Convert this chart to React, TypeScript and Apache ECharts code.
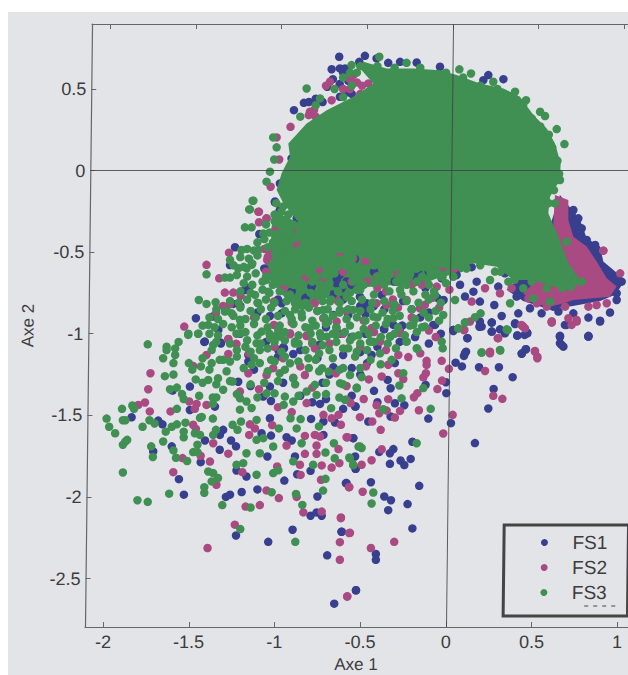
import React, { useEffect, useRef } from "react";
import * as echarts from "echarts";

type P = [number, number];

const xTicks = [-2, -1.5, -1, -0.5, 0, 0.5, 1];
const yTicks = [0.5, 0, -0.5, -1, -1.5, -2, -2.5];
const seriesNames = ["FS1", "FS2", "FS3"];

// Points (the scan is slightly sheared, see deskew)
const fs1Raw: P[] = [
[-1.41,-1.05],[-1.313,-1.06],[-1.153,-1.13],[-.978,-1.10],[-.945,-1.09],[-.891,-1.124],[-1.153,-1.17],[-.745,-1.07],[-.657,-1.205],[-.55,-1.21],[-1.494,-1.324],[-1.595,-1.348],[-1.14,-1.32],[-1.212,-1.294],[-1.027,-1.324],[-1.066,-1.385],[-1.021,-1.412],[-1.348,-1.447],[-1.494,-1.467],[-1.834,-1.512],[-1.679,-1.532],[-1.654,-1.555],[-1.027,-1.518],[-.70,-1.40],[-.735,-1.43],[-.53,-1.446],[-.787,-1.522],[-.715,-1.538],[-.647,-1.544],[-1.30,-1.589],[-1.319,-1.62],[-1.076,-1.61],[-1.021,-1.624],[-.93,-1.634],[-.90,-1.654],[-.715,-1.62],[-.541,-1.64],[-1.406,-1.654],[-1.254,-1.654],[-1.225,-1.69],[-1.60,-1.69],[-1.32,-1.711],[-1.708,-1.721],[-1.431,-1.787],[-1.042,-1.752],[-.881,-1.752],[-.53,-1.752],[-.527,-1.828],[-1.222,-1.838],[-1.164,-1.875],[-.868,-1.861],[-.79,-1.84],[-1.558,-1.891],[-.943,-1.90],[-.58,-1.915],[-1.529,-1.986],[-1.26,-1.986],[-1.284,-2.0],[-1.192,-1.97],[-1.10,-1.954],[-.75,-1.997],[-.79,-2.115],[-.755,-2.095],[-.725,-2.115],[-.895,-2.201],[-1.225,-2.236],[-1.037,-2.275],[-.609,-2.213],[-.693,-2.358],[-.525,-2.572],[-.652,-2.654],
[-1.231,-.47],[-1.26,-.579],[-.998,-.19],[-.969,-.242],[-1.089,-.389],[-1.173,-.732],[-1.459,-.905],[-1.362,-.895],[-1.328,-.977],[-1.407,-1.048],[-1.315,-1.054],[-1.241,-.817],[-1.027,-.891],[-.959,-.875],[-.959,-.813],[-.784,-.711],[-.638,-.671],[-.609,-.721],[-.657,-.885],[-.57,-.885],[-.502,-.773],[-.463,-.813],[-.375,-.762],[-.473,-.854],[-.362,-.97],[-.307,-.946],[-.255,-.95],[-.074,-.946],[-.025,-.66],[-.161,-.63],[-.014,-.793],[.043,-.977],[-.949,-1.082],[-.735,-1.068],[-.531,-.542],[-.765,-.323],[-.871,-.292],
[-.36,-.973],[-.26,-.953],[-.064,-.946],[.043,-.983],[.125,-1.027],[.195,-.957],[.267,-.987],[.267,-.932],[.344,-.997],[.403,-.94],[.416,-1.011],[.459,-1.007],[.473,-.993],[.704,-.946],[.665,-1.017],[.665,-1.058],[.685,-1.079],[.831,-1.017],[.899,-.925],[.117,-1.11],[.105,-1.136],[.056,-1.177],[.093,-1.2],[.193,-1.205],[.309,-1.205],[.442,-1.12],[.465,-1.095],[.389,-1.266],[.278,-1.338],[.247,-1.458],[.002,-1.364],[0,-1.297],[.029,-1.548],[.169,-1.67],[-.103,-1.52],[-.119,-1.313],[-.243,-1.438],[-.298,-1.426],[-.323,-1.334],[-.34,-1.283],[-.323,-1.507],[-.453,-1.538],[-.527,-1.446],[-.5,-1.113],[-.434,-1.13],[-.298,-1.18],[-.541,-1.64],[-.196,-1.662],[-.307,-1.707],[-.327,-1.732],[-.389,-1.724],[-.527,-1.828],[-.327,-1.797],[-.265,-1.777],[-.243,-1.805],[-.206,-1.767],[-.584,-1.915],[-.438,-1.91],[-.156,-1.932],[-.36,-1.997],[-.321,-2.02],[-.337,-2.081],[-.224,-2.044],[-.196,-2.193],[-.609,-2.213],[-.409,-2.35],[-.409,-2.385],[-.525,-2.572],
[.733,-.262],[.772,-.293],[.792,-.354],[.763,-.395],[.821,-.425],[.87,-.456],[.86,-.558],[.889,-.63],[.957,-.63],[1.025,-.681],[.996,-.752],[.996,-.793],[.957,-.87],[.899,-.92],[.831,-.901],[.831,-1.017],[.665,-1.017],[.675,-1.068],[.694,-.946],[.743,-.875],[.656,-.864],[.626,-.834],[.558,-.875],[.49,-.844],[.422,-.875],[.403,-.936],[.325,-.891],[.267,-.93],[.267,-.987],[.315,-.973],[.416,-1.011],[.475,-.997],[.467,-1.095],[.442,-1.123],[.282,-.824],[.198,-.803],[.16,-.742],[.111,-.772],[.208,-.956],[.198,-.925],[.125,-1.027],[.043,-.977],[.344,-.63],[.305,-.711],[.179,-.681],[.082,-.7],[.062,-.64],[.15,-.592],[.412,-.772],[.111,-1.119],
[-.623,.697],[-.473,.703],[-.506,.666],[-.667,.621],[-.619,.626],[-.589,.626],[-.693,.513],[-.619,.452],[-.829,.415],[-.887,.37],[-.405,.687],[-.337,.66],[-.268,.666],[-.171,.662],[-.035,.636],[.218,.554],[.247,.585],[.335,.56],[-.901,.074],[-.969,-.079],[-.998,-.195],[-.969,-.242],[-.784,-.711],[-.638,-.691],[-.482,-.834],[.043,-.977],[.665,-1.013],[.831,-1.013],[.743,-.242],[.782,-.385],
[-.62,-.64],[-.58,-.68],[-.55,-.7],[-.66,-.76],[-.6,-.79],[-.5,-.83],[-.47,-.88],[-.42,-.83],[-.36,-.85],[-.25,-.8],[-.2,-.85],[-.15,-.9],[-.1,-.87],[-.05,-.78],[-.12,-.72],[-.1,-.62],[-.17,-.66],[-.3,-.68],[-.42,-.62],[-1.06,-.6],[-1.15,-.72],[-1.2,-.83],[-1.1,-.87],[-.98,-.79],[-.9,-.74],[-.82,-.78],[-.75,-.86],[-.7,-.96],[-.62,-1.0],[-.55,-1.02],[-.47,-1.0],[-.4,-1.08],[-.27,-1.05],[-.18,-1.02],[-.1,-1.06],[-.03,-1.0],[-1.2,-1.0],[-1.05,-1.05],[-.98,-1.14],[-.85,-1.1],[-.75,-1.15],[-.68,-1.25],[-.6,-1.13],[-.46,-1.18],[-.5,-1.25],[-1.12,-1.22],[-.95,-1.3],[-.85,-1.38],[-.78,-1.42],[-.72,-1.3],[-.42,-1.35],[-.4,-1.42],[-.55,-1.38],[-.6,-1.46],
[-.6,.6],[-.57,.55],[-.62,.53],[-.58,.48],[-.55,.47],[-.66,.56],[-.8,.42],[-.76,.44],[-.72,.42],
];

const fs2Raw: P[] = [
[-1.724,-1.242],[-1.737,-1.34],[-1.756,-1.421],[-1.795,-1.436],[-1.728,-1.476],[-1.607,-1.476],[-1.498,-1.415],[-1.455,-1.43],[-1.465,-1.46],[-1.397,-1.436],[-1.475,-1.558],[-1.459,-1.583],[-1.358,-1.671],[-1.537,-1.762],[-1.431,-1.748],[-1.377,-1.783],[-1.27,-1.735],[-1.591,-1.848],[-1.339,-1.926],[-1.188,-1.848],[-1.169,-2.059],[-1.086,-2.05],[-1.047,-1.96],[-.975,-2.007],[-.985,-1.813],[-1.475,-1.197],[-1.397,-1.13],[-1.27,-1.034],[-1.27,-1.124],[-1.222,-1.063],[-1.153,-1.242],[-1.202,-1.354],[-1.091,-1.34],[-1.047,-1.253],[-1.144,-1.555],[-1.115,-1.58],[-1.148,-1.62],[-1.014,-1.56],[-.93,-1.685],[-.823,-1.626],[-.765,-1.62],[-.735,-1.63],[-.575,-1.634],[-.823,-1.736],[-.755,-1.685],[-.755,-1.736],[-.627,-1.707],[-.852,-1.803],[-.725,-1.807],[-.667,-1.82],[-.622,-1.793],[-.848,-1.865],[-.729,-1.895],[-.871,-2.0],[-.832,-2.095],[-.725,-2.09],[-.613,-2.126],[-.564,-2.221],[-.619,-2.277],[-.619,-2.385],[-1.232,-2.17],[-1.391,-2.313],[-.576,-2.609],[-.564,-1.94],[-.813,-1.425],[-.715,-1.497],[-.627,-1.497],[-.667,-1.518],[-.613,-1.558],[-.58,-1.405],[-.556,-1.425],[-.642,-1.242],[-.891,-1.27],[-1.008,-1.211],[-.823,-1.253],[-.765,-1.089],[-.813,-1.014],[-.91,-1.003],
[-1.091,-.253],[-1.047,-.293],[-1.091,-.317],[-1.266,-.503],[-1.397,-.578],[-1.323,-.66],[-1.29,-.748],[-1.241,-.748],[-1.198,-.768],[-1.3,-.83],[-1.261,-.82],[-1.527,-.956],[-1.342,-.875],[-1.27,-1.032],[-1.226,-1.062],[-1.004,-.803],[-1.037,-.487],[-1.043,-.548],[-.998,-.37],[-.765,-.813],[-.735,-.609],[-1.004,-.946],[-.91,-.997],[-.813,-1.011],[-.716,-.905],[-.638,-.925],[-.385,-1.048],[-.268,-.987],[-.405,-.65],[-.346,-.823],[-.405,-.813],[-.871,-.456],[-.541,-.538],[-.405,-.487],[-.288,-.63],[-.123,-.823],[-.054,-.711],[-.016,-.589],[-.152,-.844],[-.23,-.793],[-.434,-.967],[-.696,-.395],
[-.502,-1.511],[-.43,-1.538],[-.381,-1.589],[-.58,-1.634],[-.375,-1.708],[-.434,-1.775],[-.492,-1.803],[-.566,-1.94],[-.486,-1.968],[-.613,-2.13],[-.56,-2.22],[-.302,-2.275],[-.438,-2.313],[-.576,-2.61],[-.016,-1.611],[.039,-1.497],[-.158,-1.469],[-.05,-1.339],[-.023,-1.287],[.017,-1.215],[-.025,-1.166],[-.113,-1.166],[-.113,-1.191],[-.117,-1.242],[-.132,-1.267],[-.167,-1.364],[-.187,-1.389],[-.268,-1.473],[-.298,-1.514],[-.337,-1.401],[-.389,-1.487],[-.405,-1.438],[-.346,-1.471],[-.278,-1.242],[-.249,-1.278],[-.375,-1.262],[-.337,-1.19],[-.467,-1.2],[-.22,-1.143],[-.278,-1.13],[-.385,-1.038],[-.268,-.997],[-.434,-.966],[.107,-.977],[.302,-1.027],[.257,-1.12],[.519,-1.105],[.533,-1.15],[.228,-1.228],[.276,-1.38],[.329,-1.399],[.446,-.952],[.461,-.967],[.617,-.932],[.763,-.925],
[.617,-.925],[.519,-1.109],[.533,-1.14],[.257,-1.11],[.918,-.491],[1.016,-.63],[.305,-1.027],[.451,-.956],[.714,-.905],[.762,-.915],[.733,-.946],[.831,-.834],[.938,-.813],[.879,-.824],[.481,-.783],[.53,-.813],[.588,-.834],[.695,-.834],[.383,-.721],[.228,-.721],[.15,-.803],[.315,-.752],[.043,-.436],[.44,-.946],[.14,-.925],[.105,-.977],
[-.907,.268],[-.988,.203],[-.973,.068],[-.677,.544],[-1.023,-.099],[-.949,-.079],[-.541,.585],[-.453,.534],[-.794,.36],[-.667,.431],[-1.095,-.252],[-1.047,-.293],[.918,-.491],[.617,-.925],[-.56,.56],[-.52,.54],[-.49,.52],[-.8,.34],[-.77,.37],[-.76,.33],
[-1.06,-.48],[-1.04,-.53],[-.87,-.38],[-.78,-.33],[-.72,-.43],[-.62,-.5],[-.55,-.46],[-.47,-.56],[-.37,-.55],[-.3,-.5],[-.2,-.56],[-.08,-.55],[-.03,-.6],[.03,-.56],[.05,-.6],[-.73,-.62],[-.72,-.68],[-.6,-.62],[-.55,-.68],[-.46,-.68],[-.4,-.72],[-.35,-.74],[-.31,-.79],[-.28,-.84],[-.2,-.7],[-.14,-.7],[-.08,-.78],[-.04,-.84],[.02,-.73],[-1.05,-.62],[-.95,-.72],[-.82,-.66],[-.63,-.8],[-.58,-.86],[-.48,-.92],[-.42,-.99],[-.2,-.9],[-.1,-.98],[-1.12,-.9],[-.9,-.93],[-.78,-1.06],[-.68,-1.06],[-.6,-1.0],[-.5,-1.08],[-.35,-1.1],[-.15,-1.12],[-.06,-1.02],[-1.15,-1.12],[-1.0,-1.08],[-.95,-1.15],[-.85,-1.2],[-.58,-1.32],[-.45,-1.28],[-.48,-1.4],[-.98,-1.45],[-.9,-1.48],[-.78,-1.33],[-.02,-.48],
[-.6,.5],[-.56,.5],[-.5,.47],[-.7,.52],
];

const fs3Raw: P[] = [
[-1.74,-1.065],[-1.63,-1.08],[-1.63,-1.10],[-1.56,-1.05],[-1.58,-1.09],[-1.58,-1.13],[-1.65,-1.15],[-1.59,-1.18],[-1.50,-1.18],[-1.48,-1.22],[-1.64,-1.26],[-1.59,-1.25],[-1.46,-1.28],[-1.61,-1.34],[-1.57,-1.33],[-1.54,-1.37],[-1.53,-1.40],[-1.57,-1.46],[-1.89,-1.46],[-1.83,-1.44],[-1.82,-1.46],[-1.98,-1.52],[-1.965,-1.57],[-1.93,-1.61],[-1.885,-1.53],[-1.87,-1.53],[-1.77,-1.57],[-1.73,-1.53],[-1.70,-1.55],[-1.885,-1.68],[-1.87,-1.66],[-1.86,-1.65],[-1.72,-1.69],[-1.71,-1.755],[-1.885,-1.85],[-1.80,-2.02],[-1.74,-2.03],[-1.615,-1.98],[-1.41,-1.94],[-1.41,-1.975],[-1.305,-2.05],[-1.65,-1.66],[-1.59,-1.715],[-1.575,-1.76],[-1.51,-1.78],[-1.635,-1.60],[-1.60,-1.57],[-1.57,-1.555],[-1.52,-1.545],[-1.53,-1.60],[-1.53,-1.635],[-1.475,-1.725],[-1.45,-1.68],[-1.45,-1.725],[-1.465,-1.61],[-1.435,-1.62],[-1.435,-1.515],[-1.425,-1.51],[-1.36,-1.52],[-1.36,-1.43],[-1.36,-1.39],
[-1.387,-1.283],[-1.33,-1.273],[-1.30,-1.343],[-1.245,-1.293],[-1.202,-1.395],[-1.164,-1.415],[-1.202,-1.465],[-1.134,-1.455],[-1.245,-1.558],[-1.196,-1.538],[-1.216,-1.589],[-1.105,-1.528],[-1.342,-1.589],[-1.358,-1.62],[-1.086,-1.732],[-1.164,-1.732],[-1.183,-1.793],[-1.222,-1.803],[-1.105,-1.864],[-1.387,-1.844],[-1.358,-1.854],[-1.33,-1.884],[-1.367,-1.905],[-1.008,-1.691],[-1.008,-1.854],[-.978,-1.837],[-1.017,-1.971],[-1.105,-1.65],[-1.066,-1.64],[-.975,-1.58],[-.871,-1.58],[-.842,-1.671],[-.891,-1.782],[-.703,-1.728],[-.649,-1.763],[-.654,-1.671],[-.561,-1.763],[-.541,-1.803],[-.51,-1.691],[-.775,-1.803],[-.703,-1.889],[-.717,-1.961],[-.875,-1.982],[-.838,-2.049],[-1.14,-2.065],[-1.2,-2.197],[-.879,-2.275],[-.741,-1.568],[-.848,-1.523],[-.907,-1.518],[-.947,-1.436],[-.891,-1.415],[-1.0,-1.365],[-.94,-1.385],[-1.047,-1.365],[-.622,-1.391],[-.67,-1.456],[-.618,-1.303],[-.52,-1.334],[-.765,-1.313],[-.813,-1.354],[-.755,-1.375],[-.891,-1.273],[-.97,-1.242],[-.91,-1.181],[-.861,-1.17],[-.803,-1.15],[-.723,-1.211],[-.684,-1.232],[-.6,-1.21],[-.56,-1.253],[-.881,-1.06],[-.696,-1.018],[-.64,-1.008],[-.988,-1.008],[-1.105,-1.058],[-1.086,-1.1],[-1.086,-1.18],[-1.134,-1.19],[-1.0,-1.17],[-1.26,-1.17],[-1.30,-1.16],[-1.367,-1.18],[-1.43,-1.2],[-1.367,-1.1],[-1.17,-1.08],[-1.445,-1.0],[-1.503,-1.0],[-1.222,-1.0],
[-1.128,-.185],[-1.148,-.238],[-1.397,-.636],[-1.29,-.656],[-1.26,-.656],[-1.442,-.793],[-1.397,-.817],[-1.344,-.807],[-1.504,-1.007],[-1.446,-1.0],[-1.173,-.348],[-1.134,-.348],[-1.26,-.548],[-1.193,-.487],[-1.163,-.599],[-1.212,-.599],[-1.134,-.578],[-1.095,-.487],[-1.066,-.385],[-.988,-.313],[-.969,-.507],[-1.008,-.568],[-1.047,-.67],[-.969,-.65],[-1.114,-.762],[-1.095,-.813],[-1.037,-.742],[-1.29,-.864],[-1.25,-.875],[-1.387,-.946],[-1.358,-1.068],[-1.202,-.915],[-1.202,-.997],[-1.076,-.987],[-.978,-.977],[-1.027,-1.027],[-.969,-1.017],[-.881,-1.048],[-.91,-.885],[-.881,-.813],[-.842,-.875],[-.871,-.67],[-.823,-.548],[-.784,-.609],[-.696,-.711],[-.677,-.803],[-.619,-.854],[-.716,-.854],[-.687,-.925],[-.794,-.966],[-.735,-.997],[-.58,-.773],[-.521,-.731],[-.541,-.854],[-.424,-.895],[-.307,-.905],[-.191,-.946],[-.123,-.956],[-.016,-.885],[-.064,-.762],[.043,-.65],[-.327,-1.017],[-.23,-1.048],[-.171,-1.089],[-.434,-1.048],[-.541,-1.017],[-.638,-.966],[-.346,-.671],[-.268,-.731],[-.307,-.823],
[.208,-1.115],[.317,-1.103],[.36,-.977],[.072,-.967],[.111,-.932],[-.019,-1.089],[-.025,-1.048],[-.167,-1.093],[-.23,-1.048],[-.292,-1.089],[-.325,-1.017],[-.381,-1.187],[-.317,-1.16],[-.249,-1.242],[-.272,-1.317],[-.132,-1.333],[-.259,-1.396],[-.366,-1.463],[-.089,-1.46],[-.171,-1.671],[-.502,-1.691],[-.492,-1.7],[-.564,-1.758],[-.541,-1.805],[-.424,-1.973],[-.434,-2.04],[-.521,-1.33],[-.492,-1.266],[-.589,-1.405],[-.57,-1.089],[-.385,-1.12],[-.444,-1.048],
[.636,-.201],[.704,-.436],[.792,-.681],[.588,-.721],[.51,-.783],[.607,-.803],[.374,-.813],[.169,-.899],[.202,-.875],[.354,-.973],[.208,-1.115],[.315,-1.099],[.111,-.93],[.053,-.793],[.043,-.65],[-.02,-.653],[.257,-.671],[.364,-.681],[.451,-.721],[.072,-.967],[.73,-.711],[.286,-.619],
[-.813,.503],[-1.008,.203],[-.988,.142],[-1.002,.068],[-1.027,-.007],[-1.047,-.068],[-1.124,-.185],[-1.144,-.238],[-.389,.697],[-.23,.66],[.078,.62],[.146,.595],[.276,.544],[.403,.483],[.467,.431],[.549,.36],[.578,.334],[.646,.254],[.691,.162],[.665,-.058],[-.551,.646],[-.735,.442],
[-.99,-.2],[-.95,-.22],[-1.0,-.27],[-.96,-.25],[-.92,-.27],[-.89,-.25],[-1.05,-.33],[-1.0,-.31],[-.97,-.33],[-.93,-.31],[-.89,-.33],[-.84,-.31],[-1.03,-.38],[-.99,-.39],[-.95,-.37],[-.91,-.39],[-.86,-.38],[-.82,-.39],[-.78,-.37],[-1.1,-.44],[-1.06,-.42],[-1.01,-.44],[-.96,-.43],[-.93,-.45],[-.89,-.42],[-.82,-.44],[-.78,-.43],[-.74,-.45],
[-1.16,-.48],[-1.12,-.49],[-1.04,-.47],[-.99,-.49],[-.94,-.47],[-.9,-.49],[-.85,-.48],[-.79,-.47],[-.75,-.49],[-.71,-.48],[-1.2,-.53],[-1.15,-.54],[-1.1,-.52],[-.98,-.53],[-.94,-.55],[-.89,-.53],[-.84,-.52],[-.8,-.54],[-.74,-.53],[-.69,-.52],[-.65,-.54],[-.6,-.55],[-.55,-.53],
[-1.24,-.58],[-1.18,-.59],[-1.13,-.57],[-.99,-.59],[-.95,-.57],[-.9,-.58],[-.85,-.6],[-.79,-.58],[-.74,-.57],[-.7,-.59],[-.64,-.57],[-.58,-.59],[-.55,-.57],[-.47,-.6],[-.42,-.58],[-.36,-.6],[-.3,-.59],[-.24,-.61],[-.17,-.6],[-.1,-.6],[-.05,-.62],
[-1.22,-.64],[-1.16,-.65],[-1.11,-.63],[-1.05,-.65],[-.98,-.63],[-.93,-.65],[-.88,-.64],[-.8,-.63],[-.76,-.65],[-.71,-.64],[-.65,-.63],[-.53,-.65],[-.47,-.63],[-.4,-.65],[-.33,-.63],[-.27,-.65],[-.21,-.64],[-.14,-.65],[-.09,-.63],[-.03,-.65],
[-1.18,-.69],[-1.13,-.7],[-1.07,-.68],[-1.01,-.7],[-.95,-.68],[-.89,-.7],[-.84,-.69],[-.78,-.68],[-.73,-.7],[-.68,-.69],[-.6,-.7],[-.54,-.68],[-.48,-.7],[-.42,-.69],[-.36,-.7],[-.29,-.68],[-.23,-.7],[-.17,-.68],[-.1,-.7],[.0,-.69],
[-1.2,-.74],[-1.14,-.75],[-1.07,-.73],[-1.03,-.75],[-.97,-.74],[-.91,-.76],[-.85,-.74],[-.79,-.75],[-.74,-.73],[-.7,-.75],[-.63,-.74],[-.56,-.75],[-.5,-.73],[-.42,-.76],[-.33,-.74],[-.26,-.76],[-.19,-.74],[-.12,-.76],[-.07,-.74],
[-1.26,-.8],[-1.21,-.81],[-1.16,-.79],[-1.1,-.81],[-1.05,-.79],[-1.0,-.81],[-.93,-.8],[-.88,-.79],[-.82,-.81],[-.72,-.8],[-.67,-.79],[-.62,-.81],[-.55,-.8],[-.49,-.79],[-.43,-.81],[-.36,-.8],[-.3,-.82],[-.23,-.8],[-.16,-.81],[-.1,-.79],[-.03,-.81],
[-1.34,-.85],[-1.28,-.86],[-1.2,-.84],[-1.14,-.86],[-1.08,-.85],[-1.02,-.84],[-.94,-.86],[-.88,-.85],[-.8,-.84],[-.75,-.86],[-.69,-.85],[-.62,-.87],[-.57,-.85],[-.5,-.86],[-.44,-.85],[-.37,-.87],[-.31,-.86],[-.2,-.85],[-.13,-.87],[-.06,-.86],
[-1.38,-.9],[-1.33,-.91],[-1.24,-.89],[-1.17,-.91],[-1.11,-.9],[-1.05,-.91],[-.98,-.89],[-.9,-.91],[-.84,-.9],[-.78,-.92],[-.71,-.9],[-.66,-.89],[-.58,-.91],[-.52,-.9],[-.47,-.92],[-.4,-.9],[-.34,-.91],[-.27,-.89],[-.18,-.91],[-.1,-.9],[-.04,-.92],
[-1.42,-.95],[-1.35,-.96],[-1.3,-.94],[-1.25,-.96],[-1.2,-.95],[-1.12,-.94],[-1.04,-.96],[-.97,-.95],[-.89,-.94],[-.82,-.96],[-.76,-.95],[-.7,-.94],[-.64,-.96],[-.56,-.95],[-.48,-.97],[-.41,-.95],[-.35,-.94],[-.28,-.96],[-.21,-.95],[-.14,-.96],
[-1.38,-1.0],[-1.33,-1.01],[-1.17,-.99],[-1.1,-1.01],[-1.03,-1.0],[-.94,-.99],[-.86,-1.01],[-.79,-1.0],[-.73,-1.02],[-.66,-1.0],[-.59,-.99],[-.51,-1.01],[-.45,-1.0],[-.38,-1.02],[-.3,-1.0],[-.24,-1.01],[-.17,-.99],
[-1.34,-1.05],[-1.26,-1.06],[-1.16,-1.04],[-1.08,-1.06],[-1.0,-1.05],[-.94,-1.04],[-.86,-1.06],[-.78,-1.05],[-.72,-1.07],[-.64,-1.05],[-.56,-1.04],[-.5,-1.06],[-.42,-1.05],[-.34,-1.06],
[-1.22,-1.1],[-1.14,-1.11],[-1.04,-1.09],[-.96,-1.11],[-.82,-1.1],[-.74,-1.12],[-.68,-1.1],[-.6,-1.09],[-.52,-1.11],[-.46,-1.1],[-1.42,-1.15],[-1.32,-1.16],[-1.22,-1.14],[-1.12,-1.15],[-1.02,-1.16],[-.94,-1.14],[-.76,-1.16],[-.66,-1.15],[-.53,-1.14],[-.44,-1.16],
[-1.38,-1.22],[-1.28,-1.23],[-1.18,-1.21],[-1.04,-1.23],[-.94,-1.22],[-.8,-1.21],[-.74,-1.23],[-.62,-1.22],[-.5,-1.21],[-1.42,-1.3],[-1.34,-1.31],[-1.26,-1.29],[-1.14,-1.31],[-1.06,-1.3],[-.98,-1.29],[-.88,-1.31],[-.7,-1.3],[-.6,-1.31],[-1.44,-1.38],[-1.34,-1.39],[-1.22,-1.37],[-1.1,-1.39],[-.86,-1.38],[-.7,-1.37],
[-.6,.57],[-.56,.6],[-.65,.5],[-.6,.45],[-.52,.6],[-.55,.52],[-.5,.64],[-.76,.4],[-.85,.33],
[.0,.6],[.1,.57],[.2,.52],[.3,.5],[.38,.45],[.45,.4],[.5,.32],[.55,.27],[.6,.22],[.62,.14],[.65,.06],[.66,-.02],[.63,-.12],[.6,-.2],[-.4,.64],[-.3,.63],[-.15,.63],
[.7,-.6],[.6,-.68],[.5,-.68],[.4,-.67],[.32,-.62],[.2,-.58],[.12,-.6],[.68,-.72],[.75,-.68],
];

// Where the points overlap into solid colour: outlines of the filled regions
const fs3Solid: P[] = [
[-.482,.666],[-.346,.625],[-.191,.625],[-.035,.615],[.062,.585],[.198,.534],[.335,.503],[.432,.452],[.51,.34],[.588,.258],[.636,.166],[.669,.044],[.665,-.058],[.607,-.16],[.597,-.262],[.656,-.405],[.714,-.568],[.782,-.67],[.724,-.732],[.626,-.711],[.51,-.67],[.393,-.67],[.296,-.589],[.16,-.568],[.043,-.609],[-.054,-.589],[-.191,-.63],[-.327,-.609],[-.463,-.528],[-.599,-.507],[-.735,-.507],[-.774,-.385],[-.872,-.303],[-.949,-.201],[-.988,-.119],[-.959,-.017],[-.91,.085],[-.92,.166],[-.813,.289],[-.696,.37],[-.541,.452],[-.424,.534],[-.492,.615],
];
const fs3Band: P[] = [
[-1.0,-.25],[-.7,-.4],[.1,-.5],[.1,-.62],[-.05,-.66],[-.2,-.72],[-.35,-.7],[-.5,-.72],[-.62,-.8],[-.72,-.78],[-.84,-.86],[-.94,-.78],[-1.02,-.68],[-1.06,-.6],[-1.02,-.45],[-1.02,-.36],
];
const fs2Solid: P[] = [
[.636,-.15],[.714,-.18],[.714,-.303],[.743,-.405],[.821,-.466],[.879,-.558],[.938,-.66],[.996,-.711],[.957,-.773],[.86,-.783],[.743,-.793],[.685,-.813],[.607,-.834],[.51,-.813],[.451,-.752],[.549,-.65],[.626,-.528],[.626,-.324],
];
const fs1Solid: P[] = [
[.665,-.15],[.782,-.303],[.821,-.415],[.899,-.466],[.918,-.558],[.977,-.609],[1.045,-.67],[.99,-.76],[.9,-.8],[.74,-.83],[.6,-.85],[.45,-.8],[.354,-.731],[.549,-.528],
];

const BLUE = "#373f8e";
const PINK = "#aa4a82";
const GREEN = "#3f9052";
const INK = "#3c3c3c";
const PAPER = "#e3e4e8";

// The scan is sheared: x drifts with height. Bring readings back onto the axes.
const deskew = ([x, y]: P): P => [x - (0.031 + 0.0111 * y), y];

const solid = (name: string, outline: P[], color: string, z: number) => {
  const pts = outline.map(deskew);
  return {
    type: "custom",
    name,
    z,
    silent: true,
    data: pts,
    encode: { x: 0, y: 1 },
    renderItem: (params: any, api: any) =>
      params.dataIndex === 0
        ? {
            type: "polygon",
            shape: { points: pts.map((p) => api.coord(p)) },
            style: { fill: color },
          }
        : null,
  };
};

const dots = (name: string, raw: P[], color: string, z: number, extra: any = {}) => ({
  type: "scatter",
  name,
  z,
  symbol: "circle",
  symbolSize: 8.5,
  itemStyle: { color, opacity: 1 },
  data: raw.map(deskew),
  ...extra,
});

export default function App() {
  const ref = useRef<HTMLDivElement>(null);
  useEffect(() => {
    if (!ref.current) return;
    const chart = echarts.init(ref.current, undefined, { renderer: "svg" });
    const xBase = {
      type: "value",
      min: -2.106,
      max: 1.062,
      splitLine: { show: false },
      axisLine: { show: true, onZero: false, lineStyle: { color: "#666", width: 1.2 } },
      axisTick: { show: true, inside: true, length: 5, customValues: xTicks, lineStyle: { color: "#666" } },
    };
    chart.setOption({
      animation: false,
      backgroundColor: "transparent",
      textStyle: { fontFamily: "Liberation Sans" },
      grid: { left: 85, top: 24, width: 543, height: 603, containLabel: false, outerBoundsMode: "none" },
      xAxis: [
        {
          ...xBase,
          position: "bottom",
          name: "Axe 1",
          nameLocation: "middle",
          nameGap: 28,
          nameTextStyle: { fontSize: 17, color: INK, fontFamily: "Liberation Sans" },
          axisLabel: { customValues: xTicks, fontSize: 18, color: INK, margin: 6, fontFamily: "Liberation Sans" },
        },
        { ...xBase, position: "top", axisLabel: { show: false } },
      ],
      yAxis: {
        type: "value",
        min: -2.797,
        max: 0.898,
        splitLine: { show: false },
        axisLine: { show: true, onZero: false, lineStyle: { color: "#666", width: 1.2 } },
        axisTick: { show: true, inside: true, length: 5, customValues: yTicks, lineStyle: { color: "#666" } },
        axisLabel: { customValues: yTicks, fontSize: 18, color: INK, margin: 5, fontFamily: "Liberation Sans" },
        name: "Axe 2",
        nameLocation: "middle",
        nameGap: 52,
        nameRotate: 90,
        nameTextStyle: { fontSize: 17, color: INK, fontFamily: "Liberation Sans" },
      },
      legend: {
        left: 503,
        top: 525,
        orient: "vertical",
        data: seriesNames.map((name) => ({ name, icon: "circle" })),
        padding: [8, 21, 14, 37],
        itemWidth: 46,
        itemHeight: 7,
        itemGap: 6,
        borderColor: "#444",
        borderWidth: 3,
        backgroundColor: PAPER,
        selectedMode: false,
        textStyle: { fontSize: 19, color: INK, fontFamily: "Liberation Sans", padding: 0 },
        z: 20,
      },
      series: [
        solid("FS3 band", fs3Band, GREEN, 0.5),
        solid("FS1 solid", fs1Solid, BLUE, 1),
        dots("FS1", fs1Raw, BLUE, 2),
        solid("FS2 solid", fs2Solid, PINK, 2.5),
        dots("FS2", fs2Raw, PINK, 3),
        solid("FS3 solid", fs3Solid, GREEN, 3.5),
        dots("FS3", fs3Raw, GREEN, 4, {
          markLine: {
            silent: true,
            symbol: "none",
            animation: false,
            z: 6,
            label: { show: false },
            lineStyle: { color: "#444", width: 1, type: "solid", opacity: 0.85 },
            data: [{ xAxis: 0 }, { yAxis: 0 }],
          },
        }),
      ],
      graphic: [
        {
          type: "line",
          z: 30,
          shape: { x1: 584, y1: 606, x2: 619, y2: 606 },
          style: { stroke: "#444", lineWidth: 1.2, lineDash: [4, 5] },
        },
      ],
    });
    return () => chart.dispose();
  }, []);

  return (
    <>
      <div style={{ position: "absolute", left: 8, top: 12, width: 620, height: 663, background: PAPER }} />
      <div style={{ position: "absolute", left: 0, top: 0, width: 628, height: 675, overflow: "hidden" }}>
        <div
          ref={ref}
          style={{
            position: "absolute",
            left: 0,
            top: 0,
            width: 628,
            height: 675,
            transformOrigin: "0px 626px",
            transform: "skewX(-0.67deg)",
          }}
        />
      </div>
    </>
  );
}
